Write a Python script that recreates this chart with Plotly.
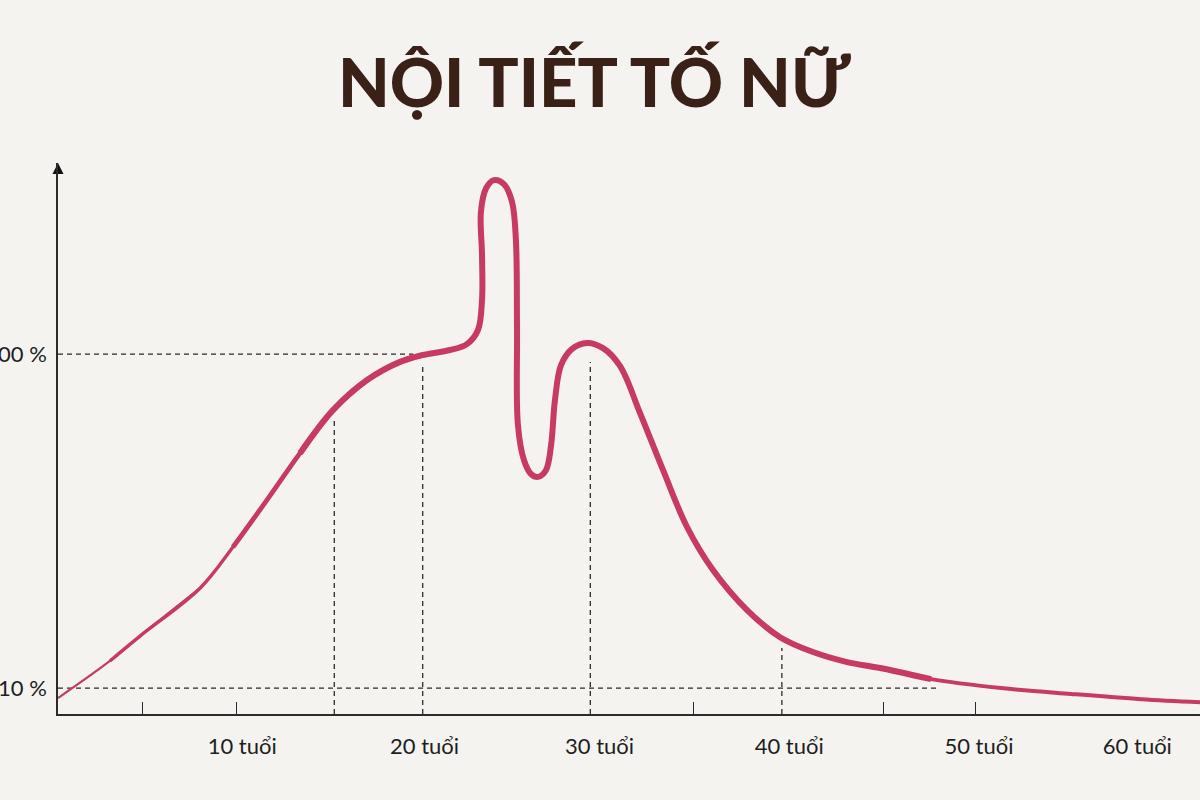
import plotly.graph_objects as go

# curve: age (years) vs hormone level (%)
age = [0.0, 2.82, 4.45, 7.71, 9.50, 11.35, 13.14, 14.93, 16.78, 18.57, 19.76, 21.28,
       22.20, 22.80, 23.02, 23.02, 22.96, 23.24, 23.67, 24.21, 24.65, 24.86, 24.92,
       24.97, 25.30, 25.68, 26.06, 26.49, 26.77, 26.98, 27.31, 27.91, 28.72, 29.59,
       30.51, 31.60, 32.85, 34.15, 35.56, 37.41, 39.20, 40.99, 42.84, 44.63, 47.40,
       51.20, 55.00, 58.80, 62.00]
level = [7.3, 17.3, 24.0, 36.9, 48.0, 60.7, 73.3, 84.9, 93.0, 97.9, 99.7, 101.1,
         102.7, 106.5, 114.6, 126.7, 138.3, 144.7, 146.9, 145.8, 141.0, 130.7, 107.3,
         80.9, 71.4, 67.7, 66.9, 68.7, 75.5, 87.6, 97.0, 101.4, 103.0, 101.6,
         96.8, 84.1, 68.7, 53.4, 41.8, 31.0, 23.7, 19.7, 17.0, 15.4, 12.4,
         10.0, 8.4, 7.0, 6.2]

# dashed guides
guide_x = [15.0, 19.8, 28.9, 39.3]
guide_top = [83.0, 96.5, 97.9, 20.8]
hguide_y = [100, 10]
hguide_end = [19.3, 47.7]

tick_marks = [4.6, 9.7, 34.5, 44.8, 49.8]
label_pos = [10.0, 19.9, 29.4, 39.7, 50.0, 58.6]
label_text = ["10 tuổi", "20 tuổi", "30 tuổi", "40 tuổi", "50 tuổi", "60 tuổi"]
ytick_vals = [10, 100]
ytick_text = ["10 %", "100 %"]

X_RANGE = [0, 62]
Y_RANGE = [3, 151.5]
BG = "#f4f3f0"
CURVE = "#c73a61"
INK = "#2b2b2b"
DASH = "5px,4px"

fig = go.Figure()

for x, top in zip(guide_x, guide_top):
    fig.add_trace(go.Scatter(x=[x, x], y=[Y_RANGE[0], top], mode="lines",
                             line=dict(color=INK, width=1.3, dash=DASH),
                             hoverinfo="skip", showlegend=False))
for y, end in zip(hguide_y, hguide_end):
    fig.add_trace(go.Scatter(x=[X_RANGE[0], end], y=[y, y], mode="lines",
                             line=dict(color=INK, width=1.3, dash=DASH),
                             hoverinfo="skip", showlegend=False))

# curve gets thicker in the middle, thin at both ends (segments overlap a bit)
segments = [(0, 4, 2.2), (1, 6, 3.4), (4, 9, 4.8), (6, 45, 6.0), (43, 49, 4.0)]
for a, b, w in segments:
    fig.add_trace(go.Scatter(x=age[a:b], y=level[a:b], mode="lines",
                             line=dict(color=CURVE, width=w, shape="spline", smoothing=1.0),
                             hoverinfo="skip", showlegend=False, cliponaxis=False))

# arrow on top of y axis
fig.add_trace(go.Scatter(x=[X_RANGE[0]], y=[Y_RANGE[1]], mode="markers",
                         marker=dict(symbol="arrow-up", size=11, color="#111"),
                         hoverinfo="skip", showlegend=False, cliponaxis=False))

fig.update_layout(
    width=1200, height=800,
    margin=dict(l=58, r=0, t=163, b=86, autoexpand=False),
    paper_bgcolor=BG, plot_bgcolor=BG,
    title=dict(text="NỘI TIẾT TỐ NỮ", x=0.495, xanchor="center",
               yref="container", y=1 - 84 / 800, yanchor="middle",
               font=dict(family="Lato", size=67, color="#3a2117", weight=900)),
    xaxis=dict(range=X_RANGE, showgrid=False, zeroline=False, automargin=False,
               showline=True, linecolor=INK, linewidth=1.5,
               tickmode="array", tickvals=label_pos, ticktext=label_text, ticks="",
               ticklabelstandoff=12,
               tickfont=dict(family="Lato", size=22, color="#1e1e1e")),
    yaxis=dict(range=Y_RANGE, showgrid=False, zeroline=False, automargin=False,
               showline=True, linecolor=INK, linewidth=1.5,
               tickmode="array", tickvals=ytick_vals, ticktext=ytick_text, ticks="",
               ticklabelstandoff=5,
               tickfont=dict(family="Lato", size=22, color="#1e1e1e")),
)
fig.update_xaxes(minor=dict(tickmode="array", tickvals=tick_marks, ticks="inside",
                            ticklen=12, tickwidth=1.3, tickcolor=INK, showgrid=False))

# drop the page's default body margin so the figure sits at the window corner
fig.write_html("out.html", config={"displayModeBar": False},
               post_script="document.body.style.margin='0';")
